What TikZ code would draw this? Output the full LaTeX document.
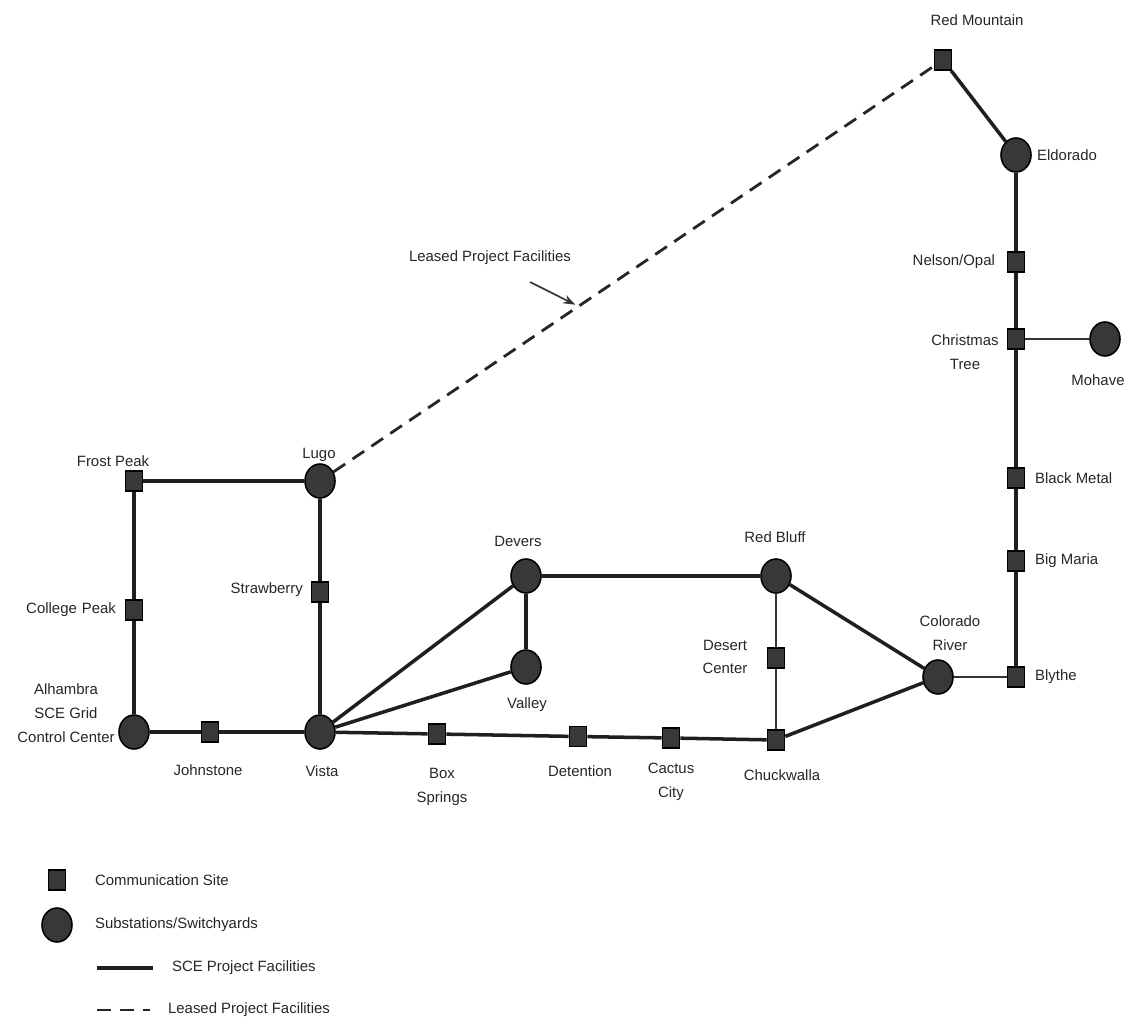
\documentclass[tikz,border=0pt]{standalone}
\usepackage{fontspec}
\setmainfont{Liberation Sans}
\usetikzlibrary{arrows.meta,shapes.geometric}
\begin{document}
\begin{tikzpicture}[x=0.02cm,y=-0.02cm,
  comm/.style={draw=black,fill=black!78,minimum width=0.34cm,minimum height=0.4cm,inner sep=0pt,line width=0.9pt},
  sub/.style={ellipse,draw=black,fill=black!78,minimum width=0.6cm,minimum height=0.68cm,inner sep=0pt,line width=0.9pt},
  lbl/.style={font=\fontsize{8.5}{13.5}\selectfont,align=center,inner sep=1pt,text=black!85},
  fac/.style={line width=2pt,draw=black!88},
  thinfac/.style={line width=1.4pt,draw=black!80},
  leased/.style={line width=1.6pt,draw=black!85,dash pattern=on 8pt off 5pt},
  pointer/.style={line width=0.9pt,draw=black!80,-{Stealth[length=7pt,width=5pt]}}]
\useasboundingbox (0,0) rectangle (1135,1034);
% nodes
\node[comm] (redmtn) at (943,60) {};
\node[sub]  (eldorado) at (1016,155) {};
\node[comm] (nelson) at (1016,262) {};
\node[comm] (xmas) at (1016,339) {};
\node[sub]  (mohave) at (1105,339) {};
\node[comm] (blackmetal) at (1016,478) {};
\node[comm] (bigmaria) at (1016,561) {};
\node[comm] (blythe) at (1016,677) {};
\node[sub]  (colorado) at (938,677) {};
\node[sub]  (redbluff) at (776,576) {};
\node[comm] (desertctr) at (776,658) {};
\node[comm] (chuck) at (776,740) {};
\node[sub]  (devers) at (526,576) {};
\node[sub]  (valley) at (526,667) {};
\node[sub]  (vista) at (320,732) {};
\node[comm] (boxspr) at (437,734) {};
\node[comm] (detention) at (578,736.5) {};
\node[comm] (cactus) at (671,738) {};
\node[comm] (johnstone) at (210,732) {};
\node[sub]  (alhambra) at (134,732) {};
\node[comm] (college) at (134,610) {};
\node[comm] (frost) at (134,481) {};
\node[sub]  (lugo) at (320,481) {};
\node[comm] (straw) at (320,592) {};
% labels
\node[lbl] (l-redmtn) at (977,20) {Red Mountain};
\node[lbl,anchor=west] (l-eldorado) at (1035,155) {Eldorado};
\node[lbl,anchor=east] (l-nelson) at (997,262) {Nelson/Opal};
\node[lbl] (l-xmas) at (965,352) {Christmas\\Tree};
\node[lbl] (l-mohave) at (1098,380) {Mohave};
\node[lbl,anchor=west] (l-blackmetal) at (1033,478) {Black Metal};
\node[lbl,anchor=west] (l-bigmaria) at (1033,561) {Big Maria};
\node[lbl,anchor=west] (l-blythe) at (1033,677) {Blythe};
\node[lbl] (l-colorado) at (950,633) {Colorado\\River};
\node[lbl] (l-redbluff) at (775,537) {Red Bluff};
\node[lbl] (l-desertctr) at (725,657) {Desert\\Center};
\node[lbl] (l-chuck) at (782,775) {Chuckwalla};
\node[lbl] (l-devers) at (518,541) {Devers};
\node[lbl] (l-valley) at (527,705) {Valley};
\node[lbl] (l-boxspr) at (442,787) {Box\\Springs};
\node[lbl] (l-detention) at (580,771) {Detention};
\node[lbl] (l-cactus) at (671,782) {Cactus\\City};
\node[lbl] (l-vista) at (322,771) {Vista};
\node[lbl] (l-johnstone) at (208,770) {Johnstone};
\node[lbl] (l-alhambra) at (66,713) {Alhambra\\SCE Grid\\Control Center};
\node[lbl,anchor=east] (l-college) at (118,610) {College\,\,Peak};
\node[lbl] (l-frost) at (113,461) {Frost Peak};
\node[lbl] (l-lugo) at (319,455) {Lugo};
\node[lbl,anchor=east] (l-straw) at (305,590) {Strawberry};
\node[lbl] (l-leased) at (490,258) {Leased Project Facilities};
% connectors
\draw[fac] (redmtn) -- (eldorado);
\draw[fac] (eldorado) -- (nelson);
\draw[fac] (nelson) -- (xmas);
\draw[fac] (xmas) -- (blackmetal);
\draw[fac] (blackmetal) -- (bigmaria);
\draw[fac] (bigmaria) -- (blythe);
\draw[thinfac] (xmas) -- (mohave);
\draw[thinfac] (blythe) -- (colorado);
\draw[fac] (colorado) -- (redbluff);
\draw[fac] (colorado) -- (chuck);
\draw[thinfac] (redbluff) -- (desertctr);
\draw[thinfac] (desertctr) -- (chuck);
\draw[fac] (devers) -- (redbluff);
\draw[fac] (devers) -- (valley);
\draw[fac] (vista) -- (devers);
\draw[fac] (vista) -- (valley);
\draw[fac] (vista) -- (boxspr);
\draw[fac] (boxspr) -- (detention);
\draw[fac] (detention) -- (cactus);
\draw[fac] (cactus) -- (chuck);
\draw[fac] (vista) -- (johnstone);
\draw[fac] (johnstone) -- (alhambra);
\draw[fac] (alhambra) -- (college);
\draw[fac] (college) -- (frost);
\draw[fac] (frost) -- (lugo);
\draw[fac] (lugo) -- (straw);
\draw[fac] (straw) -- (vista);
\draw[leased] (lugo) -- (redmtn);
\path (lugo.center) -- (redmtn.center) coordinate[pos=0.415] (ltip);
\coordinate (lstart) at (530,282);
\draw[pointer,shorten >=2pt] (lstart) -- (ltip);
% legend
\node[comm] (lg-comm) at (57,880) {};
\node[sub] (lg-sub) at (57,925) {};
\coordinate (lg-s1) at (97,968);
\coordinate (lg-s2) at (153,968);
\coordinate (lg-d1) at (97,1010);
\coordinate (lg-d2) at (150,1010);
\draw[fac] (lg-s1) -- (lg-s2);
\draw[leased] (lg-d1) -- (lg-d2);
\node[lbl,anchor=west] (lgt-comm) at (93,880) {Communication Site};
\node[lbl,anchor=west] (lgt-sub) at (93,925) {Substations/Switchyards};
\node[lbl,anchor=west] (lgt-sce) at (170,968) {SCE Project Facilities};
\node[lbl,anchor=west] (lgt-leased) at (166,1010) {Leased Project Facilities};
\end{tikzpicture}
\end{document}
